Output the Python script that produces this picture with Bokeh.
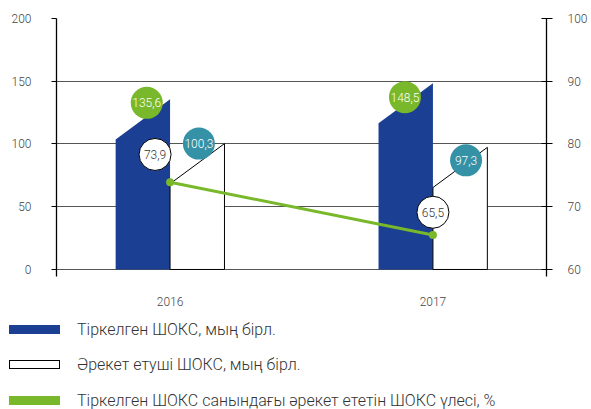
from bokeh.plotting import figure
from bokeh.layouts import column
from bokeh.models import Range1d, LinearAxis, FixedTicker, ColumnDataSource, Div
from bokeh.core.properties import value
from bokeh.embed import file_html
from bokeh.resources import INLINE

# ---------------- data ----------------
years = ["2016", "2017"]
registered = [135.6, 148.5]      # Тіркелген ШОКС, мың бірл.
active = [100.3, 97.3]           # Әрекет етуші ШОКС, мың бірл.
share = [73.9, 65.5]             # Тіркелген ШОКС санындағы әрекет ететін ШОКС үлесі, %
left_ticks = [0, 50, 100, 150, 200]
right_ticks = [60, 70, 80, 90, 100]
series_names = ["Тіркелген ШОКС, мың бірл.",
                "Әрекет етуші ШОКС, мың бірл.",
                "Тіркелген ШОКС санындағы әрекет ететін ШОКС үлесі, %"]

# ---------------- style ----------------
BLUE = "#1b3f92"
GREEN = "#78b82a"
TEAL = "#3591a6"
TXT = "#444444"
FONT = "Roboto Light, Roboto"
BAR_W = 0.207          # bar width in x units
SLANT = 32             # slanted top: left edge lower by this many left-axis units
Y0 = -5.6              # axis extends slightly below zero
PX_X = 263.0           # px per x unit
FRAME_H = 258.0
PX_YL = FRAME_H / (200 - Y0)
R0 = 60 + Y0 / 5.0
PX_YR = FRAME_H / (100 - R0)
# label-bubble offsets in px (dx right, dy up)
reg_off = [(-23.3, -3.5), (-28.0, -14.0)]
act_off = [(-25.6, 0.0), (-21.3, -13.0)]
shr_off = [(-15.0, 27.8), (0.0, 22.7)]


def fmt(v):
    return f"{v:.1f}".replace(".", ",")


idx = list(range(len(years)))

p = figure(width=591, height=312, output_backend="svg", toolbar_location=None,
           x_range=Range1d(-0.432, 1.432), y_range=Range1d(Y0, 200),
           min_border_left=56, min_border_right=45, min_border_top=18,
           min_border_bottom=36, outline_line_color=None, background_fill_color="white")
p.extra_y_ranges = {"right": Range1d(R0, 100)}

# axes
yax = p.yaxis[0]
yax.ticker = FixedTicker(ticks=left_ticks)
yax.axis_line_color = "black"
yax.axis_line_width = 1.3
yax.major_tick_line_color = "black"
yax.major_tick_out = 5
yax.major_tick_in = 0
yax.minor_tick_line_color = None
yax.major_label_standoff = 20
yax.major_label_text_font = FONT
yax.major_label_text_font_size = "12px"
yax.major_label_text_color = TXT

rax = LinearAxis(y_range_name="right", ticker=FixedTicker(ticks=right_ticks))
rax.axis_line_color = "black"
rax.axis_line_width = 1.3
rax.major_tick_line_color = "black"
rax.major_tick_out = 6
rax.major_tick_in = 5
rax.minor_tick_line_color = None
rax.major_label_standoff = 15
rax.major_label_text_font = FONT
rax.major_label_text_font_size = "12px"
rax.major_label_text_color = TXT
p.add_layout(rax, "right")

xax = p.xaxis[0]
xax.ticker = FixedTicker(ticks=idx)
xax.major_label_overrides = {i: y for i, y in zip(idx, years)}
xax.axis_line_color = None
xax.major_tick_line_color = None
xax.minor_tick_line_color = None
xax.major_label_standoff = 14
xax.major_label_text_font = FONT
xax.major_label_text_font_size = "12px"
xax.major_label_text_color = TXT

p.xgrid.visible = False
p.ygrid.ticker = FixedTicker(ticks=left_ticks)
p.ygrid.grid_line_color = "#555555"
p.ygrid.grid_line_width = 1

# bars with slanted tops
blue_src = ColumnDataSource(dict(
    xs=[[i - BAR_W, i - BAR_W, i, i] for i in idx],
    ys=[[0, v - SLANT, v, 0] for v in registered]))
white_src = ColumnDataSource(dict(
    xs=[[i, i, i + BAR_W, i + BAR_W] for i in idx],
    ys=[[0, v - SLANT, v, 0] for v in active]))
p.patches("xs", "ys", source=blue_src, fill_color=BLUE, line_color=None)
p.patches("xs", "ys", source=white_src, fill_color="white",
          line_color="black", line_width=1)

# share line
p.line(idx, share, y_range_name="right", line_color=GREEN, line_width=3)
p.scatter(idx, share, y_range_name="right", size=8, fill_color=GREEN, line_color=None)

# value bubbles
reg_x = [i + d[0] / PX_X for i, d in zip(idx, reg_off)]
reg_y = [v + d[1] / PX_YL for v, d in zip(registered, reg_off)]
act_x = [i + BAR_W + d[0] / PX_X for i, d in zip(idx, act_off)]
act_y = [v + d[1] / PX_YL for v, d in zip(active, act_off)]
shr_x = [i + d[0] / PX_X for i, d in zip(idx, shr_off)]
shr_y = [v + d[1] / PX_YR for v, d in zip(share, shr_off)]

p.scatter(reg_x, reg_y, size=32, fill_color=GREEN, line_color=None)
p.text(reg_x, reg_y, text=[fmt(v) for v in registered], text_align="center",
       text_baseline="middle", text_color="white", text_font=value(FONT),
       text_font_size="12px")
p.scatter(act_x, act_y, size=32, fill_color=TEAL, line_color=None)
p.text(act_x, act_y, text=[fmt(v) for v in active], text_align="center",
       text_baseline="middle", text_color="white", text_font=value(FONT),
       text_font_size="12px")
p.scatter(shr_x, shr_y, size=32, y_range_name="right", fill_color="white",
          line_color="black", line_width=1)
p.text(shr_x, shr_y, text=[fmt(v) for v in share], y_range_name="right",
       text_align="center", text_baseline="middle", text_color="#333333",
       text_font=value(FONT), text_font_size="12px")

# legend (HTML block under the chart)
swatches = [f"background:{BLUE};",
            "background:#ffffff;border:1.3px solid #000;box-sizing:border-box;",
            f"background:{GREEN};"]
row_centers = [17.5, 52.7, 88.5]
rows = []
for name, sw, cy in zip(series_names, swatches, row_centers):
    rows.append(
        f'<div style="position:absolute;left:9px;top:{cy - 4.5}px;width:51px;height:9px;{sw}"></div>'
        f'<div style="position:absolute;left:77px;top:{cy - 10}px;height:20px;line-height:20px;'
        f'white-space:nowrap;">{name}</div>')
legend_html = ('<div style="position:relative;width:591px;height:97px;'
               'font-family:\'Roboto Light\',Roboto,sans-serif;font-weight:300;'
               'font-size:16px;color:#333333;">' + "".join(rows) + '</div>')
lg = Div(text=legend_html, width=591, height=97, margin=0)

open("out.html", "w").write(file_html(column(p, lg, spacing=0), INLINE))
